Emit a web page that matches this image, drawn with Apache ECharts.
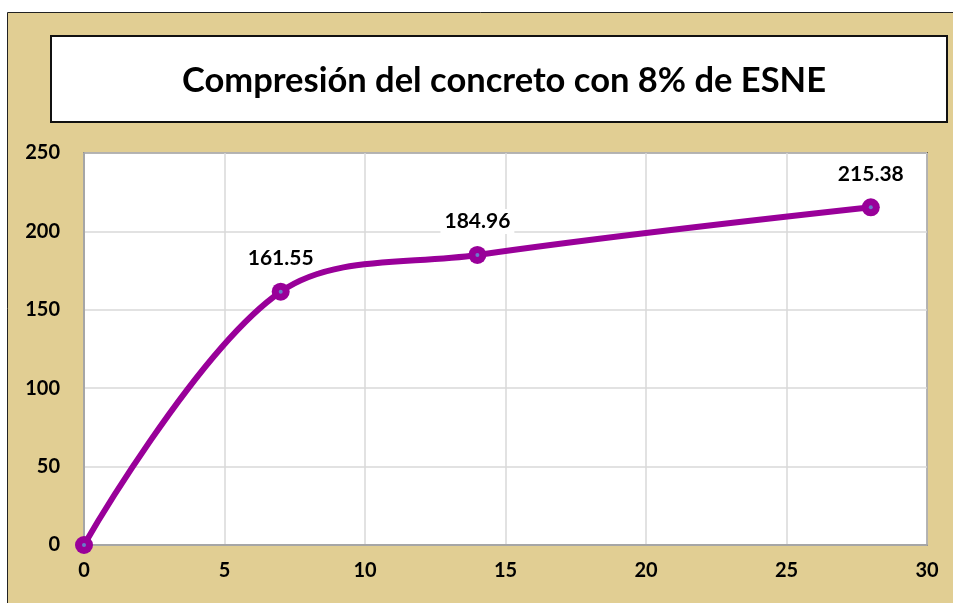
<!DOCTYPE html>
<html lang="es">
<head>
    <meta charset="UTF-8">
    <title>Compresión del concreto</title>
    <style>
        html, body { margin: 0; padding: 0; background: #fff; }
        #main { width: 953px; height: 603px; }
    </style>
    <script src="https://cdn.jsdelivr.net/npm/echarts@6/dist/echarts.min.js"></script>
</head>
<body>
<div id="main"></div>
<script>
    // datos
    const dias = [0, 7, 14, 28]
    const resistencia = [0, 161.55, 184.96, 215.38]
    const conEtiqueta = [false, true, true, true]

    const puntos = dias.map((d, i) => ({
        value: [d, resistencia[i]],
        label: { show: conEtiqueta[i] }
    }))
    const font = 'Lato, "Open Sans", sans-serif'

    let chart = echarts.init(document.getElementById('main'))
    chart.setOption({
        backgroundColor: '#fff',
        animation: false,
        graphic: [
            {
                type: 'rect', z: -10,
                shape: { x: 7.5, y: 12.5, width: 960, height: 600 },
                style: { fill: '#E1CE93', stroke: '#222', lineWidth: 1 }
            },
            {
                type: 'rect', z: -9,
                shape: { x: 51, y: 36, width: 896, height: 86 },
                style: { fill: '#fff', stroke: '#111', lineWidth: 2 }
            }
        ],
        title: {
            text: 'Compresión del concreto con 8% de ESNE',
            left: 499, textAlign: 'center',
            top: 58,
            textStyle: { fontFamily: font, fontWeight: 'bold', fontSize: 34.5, color: '#000' }
        },
        grid: {
            left: 84, top: 153, right: 26, bottom: 58,
            show: true, borderColor: '#111', borderWidth: 1.5, backgroundColor: '#fff'
        },
        xAxis: {
            type: 'value', min: 0, max: 30, interval: 5,
            axisLine: { show: true, lineStyle: { color: '#A6A6A6', width: 2 } },
            axisTick: { show: false },
            splitLine: { lineStyle: { color: '#D9D9D9', width: 1.5 } },
            axisLabel: { color: '#000', fontFamily: font, fontWeight: 'bold', fontSize: 20, margin: 16 }
        },
        yAxis: {
            type: 'value', min: 0, max: 250, interval: 50,
            axisLine: { show: true, lineStyle: { color: '#A6A6A6', width: 2 } },
            axisTick: { show: false },
            splitLine: { lineStyle: { color: '#D9D9D9', width: 1.5 } },
            axisLabel: { color: '#000', fontFamily: font, fontWeight: 'bold', fontSize: 20, margin: 24 }
        },
        series: [
            {
                type: 'line',
                data: puntos,
                smooth: 0.35,
                symbol: 'circle',
                symbolSize: 18,
                lineStyle: { color: '#990099', width: 6 },
                itemStyle: { color: '#990099' },
                label: {
                    show: true,
                    position: 'top',
                    distance: 12,
                    backgroundColor: '#fff',
                    padding: [2, 4],
                    color: '#000',
                    fontFamily: font,
                    fontWeight: 'bold',
                    fontSize: 21,
                    formatter: p => p.value[1].toFixed(2)
                },
                z: 3
            },
            {
                type: 'scatter',
                data: dias.map((d, i) => [d, resistencia[i]]),
                symbolSize: 4,
                itemStyle: { color: '#5B9BD5' },
                z: 4,
                silent: true
            }
        ]
    })
</script>
</body>
</html>
